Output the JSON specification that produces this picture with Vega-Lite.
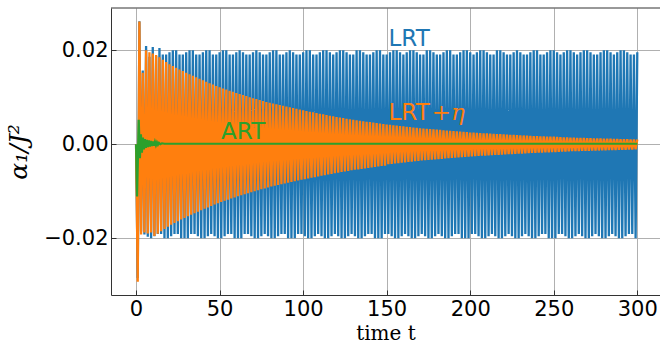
{
"$schema":"https://vega.github.io/schema/vega-lite/v6.json",
"width":549,"height":287,
"autosize":"none",
"padding":{"left":111,"top":8,"right":0,"bottom":52},
"background":"white",
"datasets":{
"sig":[
{"t":0,"b":0,"o":0},{"t":1,"b":-0.0285,"o":-0.0293},{"t":2,"b":0.0262,"o":0.0261},{"t":3,"b":-0.0186,"o":-0.0192},{"t":4,"b":0.0157,"o":0.0152},{"t":5,"b":-0.0192,"o":-0.0188},{"t":6,"b":0.0209,"o":0.0200},{"t":7,"b":-0.0197,"o":-0.0190},{"t":8,"b":0.0186,"o":0.0196},{"t":9,"b":-0.0200,"o":-0.0188},
{"t":10,"b":0.0207,"o":0.0193},{"t":11,"b":-0.0196,"o":-0.01955},{"t":12,"b":0.0188,"o":0.0190},{"t":13,"b":-0.0191,"o":-0.01905},{"t":14,"b":0.0205,"o":0.0185},{"t":15,"b":-0.0191,"o":-0.01855},{"t":16,"b":0.0191,"o":0.0180},{"t":17,"b":-0.0200,"o":-0.01805},{"t":18,"b":0.0191,"o":0.0175},{"t":19,"b":-0.0200,"o":-0.01755},
{"t":20,"b":0.0196,"o":0.0170},{"t":21,"b":-0.0196,"o":-0.01712},{"t":22,"b":0.0200,"o":0.01664},{"t":23,"b":-0.0191,"o":-0.01676},{"t":24,"b":0.0200,"o":0.01628},{"t":25,"b":-0.0191,"o":-0.0164},{"t":26,"b":0.0191,"o":0.01592},{"t":27,"b":-0.0200,"o":-0.01604},{"t":28,"b":0.0191,"o":0.01556},{"t":29,"b":-0.0200,"o":-0.01568},
{"t":30,"b":0.0196,"o":0.0152},{"t":31,"b":-0.0200,"o":-0.01534},{"t":32,"b":0.0200,"o":0.01488},{"t":33,"b":-0.0191,"o":-0.01502},{"t":34,"b":0.0200,"o":0.01456},{"t":35,"b":-0.0191,"o":-0.0147},{"t":36,"b":0.0191,"o":0.01424},{"t":37,"b":-0.0196,"o":-0.01438},{"t":38,"b":0.0191,"o":0.01392},{"t":39,"b":-0.0200,"o":-0.01406},
{"t":40,"b":0.0196,"o":0.0136},{"t":41,"b":-0.0200,"o":-0.01375},{"t":42,"b":0.0200,"o":0.0133},{"t":43,"b":-0.0196,"o":-0.01345},{"t":44,"b":0.0200,"o":0.0130},{"t":45,"b":-0.0191,"o":-0.01315},{"t":46,"b":0.0191,"o":0.0127},{"t":47,"b":-0.0196,"o":-0.01285},{"t":48,"b":0.0191,"o":0.0124},{"t":49,"b":-0.0200,"o":-0.01255},
{"t":50,"b":0.0196,"o":0.0121},{"t":51,"b":-0.0200,"o":-0.01228},{"t":52,"b":0.0200,"o":0.01186},{"t":53,"b":-0.0196,"o":-0.01204},{"t":54,"b":0.0200,"o":0.01162},{"t":55,"b":-0.0191,"o":-0.0118},{"t":56,"b":0.0191,"o":0.01138},{"t":57,"b":-0.0191,"o":-0.01156},{"t":58,"b":0.0191,"o":0.01114},{"t":59,"b":-0.0200,"o":-0.01132},
{"t":60,"b":0.0196,"o":0.0109},{"t":61,"b":-0.0200,"o":-0.01109},{"t":62,"b":0.0200,"o":0.01068},{"t":63,"b":-0.0200,"o":-0.01087},{"t":64,"b":0.0196,"o":0.01046},{"t":65,"b":-0.0191,"o":-0.01065},{"t":66,"b":0.0191,"o":0.01024},{"t":67,"b":-0.0191,"o":-0.01043},{"t":68,"b":0.0191,"o":0.01002},{"t":69,"b":-0.0196,"o":-0.01021},
{"t":70,"b":0.0196,"o":0.0098},{"t":71,"b":-0.0200,"o":-0.0100},{"t":72,"b":0.0200,"o":0.0096},{"t":73,"b":-0.0200,"o":-0.0098},{"t":74,"b":0.0196,"o":0.0094},{"t":75,"b":-0.0196,"o":-0.0096},{"t":76,"b":0.0191,"o":0.0092},{"t":77,"b":-0.0191,"o":-0.0094},{"t":78,"b":0.0191,"o":0.0090},{"t":79,"b":-0.0196,"o":-0.0092},
{"t":80,"b":0.0196,"o":0.0088},{"t":81,"b":-0.0200,"o":-0.00902},{"t":82,"b":0.0200,"o":0.00864},{"t":83,"b":-0.0200,"o":-0.00886},{"t":84,"b":0.0200,"o":0.00848},{"t":85,"b":-0.0196,"o":-0.0087},{"t":86,"b":0.0191,"o":0.00832},{"t":87,"b":-0.0191,"o":-0.00854},{"t":88,"b":0.0191,"o":0.00816},{"t":89,"b":-0.0191,"o":-0.00838},
{"t":90,"b":0.0196,"o":0.0080},{"t":91,"b":-0.0200,"o":-0.00822},{"t":92,"b":0.0200,"o":0.00784},{"t":93,"b":-0.0200,"o":-0.00806},{"t":94,"b":0.0196,"o":0.00768},{"t":95,"b":-0.0200,"o":-0.0079},{"t":96,"b":0.0191,"o":0.00752},{"t":97,"b":-0.0191,"o":-0.00774},{"t":98,"b":0.0191,"o":0.00736},{"t":99,"b":-0.0191,"o":-0.00758},
{"t":100,"b":0.0196,"o":0.0072},{"t":101,"b":-0.0196,"o":-0.00743},{"t":102,"b":0.0200,"o":0.00706},{"t":103,"b":-0.0200,"o":-0.00729},{"t":104,"b":0.0200,"o":0.00692},{"t":105,"b":-0.0200,"o":-0.00715},{"t":106,"b":0.0191,"o":0.00678},{"t":107,"b":-0.0196,"o":-0.00701},{"t":108,"b":0.0191,"o":0.00664},{"t":109,"b":-0.0191,"o":-0.00687},
{"t":110,"b":0.0196,"o":0.0065},{"t":111,"b":-0.0196,"o":-0.00673},{"t":112,"b":0.0200,"o":0.00636},{"t":113,"b":-0.0200,"o":-0.00659},{"t":114,"b":0.0200,"o":0.00622},{"t":115,"b":-0.0200,"o":-0.00645},{"t":116,"b":0.0196,"o":0.00608},{"t":117,"b":-0.0196,"o":-0.00631},{"t":118,"b":0.0191,"o":0.00594},{"t":119,"b":-0.0191,"o":-0.00617},
{"t":120,"b":0.0196,"o":0.0058},{"t":121,"b":-0.0196,"o":-0.00604},{"t":122,"b":0.0200,"o":0.00568},{"t":123,"b":-0.0200,"o":-0.00592},{"t":124,"b":0.0200,"o":0.00556},{"t":125,"b":-0.0200,"o":-0.0058},{"t":126,"b":0.0196,"o":0.00544},{"t":127,"b":-0.0196,"o":-0.00568},{"t":128,"b":0.0191,"o":0.00532},{"t":129,"b":-0.0191,"o":-0.00556},
{"t":130,"b":0.0191,"o":0.0052},{"t":131,"b":-0.0196,"o":-0.00545},{"t":132,"b":0.0200,"o":0.0051},{"t":133,"b":-0.0200,"o":-0.00535},{"t":134,"b":0.0200,"o":0.0050},{"t":135,"b":-0.0200,"o":-0.00525},{"t":136,"b":0.0196,"o":0.0049},{"t":137,"b":-0.0196,"o":-0.00515},{"t":138,"b":0.0191,"o":0.0048},{"t":139,"b":-0.0191,"o":-0.00505},
{"t":140,"b":0.0191,"o":0.0047},{"t":141,"b":-0.0191,"o":-0.00495},{"t":142,"b":0.0196,"o":0.0046},{"t":143,"b":-0.0200,"o":-0.00485},{"t":144,"b":0.0200,"o":0.0045},{"t":145,"b":-0.0200,"o":-0.00475},{"t":146,"b":0.0200,"o":0.0044},{"t":147,"b":-0.0200,"o":-0.00465},{"t":148,"b":0.0191,"o":0.0043},{"t":149,"b":-0.0191,"o":-0.00455},
{"t":150,"b":0.0191,"o":0.0042},{"t":151,"b":-0.0191,"o":-0.00426},{"t":152,"b":0.0196,"o":0.00412},{"t":153,"b":-0.0196,"o":-0.00418},{"t":154,"b":0.0200,"o":0.00404},{"t":155,"b":-0.0200,"o":-0.0041},{"t":156,"b":0.0200,"o":0.00396},{"t":157,"b":-0.0200,"o":-0.00402},{"t":158,"b":0.0196,"o":0.00388},{"t":159,"b":-0.0196,"o":-0.00394},
{"t":160,"b":0.0191,"o":0.0038},{"t":161,"b":-0.0191,"o":-0.00386},{"t":162,"b":0.0196,"o":0.00372},{"t":163,"b":-0.0196,"o":-0.00378},{"t":164,"b":0.0200,"o":0.00364},{"t":165,"b":-0.0200,"o":-0.0037},{"t":166,"b":0.0200,"o":0.00356},{"t":167,"b":-0.0200,"o":-0.00362},{"t":168,"b":0.0196,"o":0.00348},{"t":169,"b":-0.0196,"o":-0.00354},
{"t":170,"b":0.0191,"o":0.0034},{"t":171,"b":-0.0191,"o":-0.00347},{"t":172,"b":0.0191,"o":0.00334},{"t":173,"b":-0.0196,"o":-0.00341},{"t":174,"b":0.0200,"o":0.00328},{"t":175,"b":-0.0200,"o":-0.00335},{"t":176,"b":0.0200,"o":0.00322},{"t":177,"b":-0.0200,"o":-0.00329},{"t":178,"b":0.0196,"o":0.00316},{"t":179,"b":-0.0196,"o":-0.00323},
{"t":180,"b":0.0191,"o":0.0031},{"t":181,"b":-0.0191,"o":-0.00317},{"t":182,"b":0.0191,"o":0.00304},{"t":183,"b":-0.0196,"o":-0.00311},{"t":184,"b":0.0196,"o":0.00298},{"t":185,"b":-0.0200,"o":-0.00305},{"t":186,"b":0.0200,"o":0.00292},{"t":187,"b":-0.0200,"o":-0.00299},{"t":188,"b":0.0200,"o":0.00286},{"t":189,"b":-0.0196,"o":-0.00293},
{"t":190,"b":0.0191,"o":0.0028},{"t":191,"b":-0.0191,"o":-0.00287},{"t":192,"b":0.0191,"o":0.00274},{"t":193,"b":-0.0191,"o":-0.00281},{"t":194,"b":0.0196,"o":0.00268},{"t":195,"b":-0.0200,"o":-0.00275},{"t":196,"b":0.0200,"o":0.00262},{"t":197,"b":-0.0200,"o":-0.00269},{"t":198,"b":0.0200,"o":0.00256},{"t":199,"b":-0.0200,"o":-0.00263},
{"t":200,"b":0.0196,"o":0.0025},{"t":201,"b":-0.0191,"o":-0.00258},{"t":202,"b":0.0191,"o":0.00246},{"t":203,"b":-0.0191,"o":-0.00254},{"t":204,"b":0.0196,"o":0.00242},{"t":205,"b":-0.0196,"o":-0.0025},{"t":206,"b":0.0200,"o":0.00238},{"t":207,"b":-0.0200,"o":-0.00246},{"t":208,"b":0.0200,"o":0.00234},{"t":209,"b":-0.0200,"o":-0.00242},
{"t":210,"b":0.0196,"o":0.0023},{"t":211,"b":-0.0196,"o":-0.00238},{"t":212,"b":0.0191,"o":0.00226},{"t":213,"b":-0.0191,"o":-0.00234},{"t":214,"b":0.0191,"o":0.00222},{"t":215,"b":-0.0196,"o":-0.0023},{"t":216,"b":0.0200,"o":0.00218},{"t":217,"b":-0.0200,"o":-0.00226},{"t":218,"b":0.0200,"o":0.00214},{"t":219,"b":-0.0200,"o":-0.00222},
{"t":220,"b":0.0196,"o":0.0021},{"t":221,"b":-0.0196,"o":-0.00218},{"t":222,"b":0.0191,"o":0.00206},{"t":223,"b":-0.0191,"o":-0.00214},{"t":224,"b":0.0191,"o":0.00202},{"t":225,"b":-0.0196,"o":-0.0021},{"t":226,"b":0.0196,"o":0.00198},{"t":227,"b":-0.0200,"o":-0.00206},{"t":228,"b":0.0200,"o":0.00194},{"t":229,"b":-0.0200,"o":-0.00202},
{"t":230,"b":0.0196,"o":0.0019},{"t":231,"b":-0.0196,"o":-0.00198},{"t":232,"b":0.0191,"o":0.00186},{"t":233,"b":-0.0191,"o":-0.00194},{"t":234,"b":0.0191,"o":0.00182},{"t":235,"b":-0.0196,"o":-0.0019},{"t":236,"b":0.0196,"o":0.00178},{"t":237,"b":-0.0200,"o":-0.00186},{"t":238,"b":0.0200,"o":0.00174},{"t":239,"b":-0.0200,"o":-0.00182},
{"t":240,"b":0.0200,"o":0.0017},{"t":241,"b":-0.0196,"o":-0.00179},{"t":242,"b":0.0191,"o":0.00168},{"t":243,"b":-0.0191,"o":-0.00177},{"t":244,"b":0.0191,"o":0.00166},{"t":245,"b":-0.0191,"o":-0.00175},{"t":246,"b":0.0196,"o":0.00164},{"t":247,"b":-0.0200,"o":-0.00173},{"t":248,"b":0.0200,"o":0.00162},{"t":249,"b":-0.0200,"o":-0.00171},
{"t":250,"b":0.0200,"o":0.0016},{"t":251,"b":-0.0200,"o":-0.00168},{"t":252,"b":0.0196,"o":0.00156},{"t":253,"b":-0.0191,"o":-0.00164},{"t":254,"b":0.0191,"o":0.00152},{"t":255,"b":-0.0191,"o":-0.0016},{"t":256,"b":0.0196,"o":0.00148},{"t":257,"b":-0.0196,"o":-0.00156},{"t":258,"b":0.0200,"o":0.00144},{"t":259,"b":-0.0200,"o":-0.00152},
{"t":260,"b":0.0200,"o":0.0014},{"t":261,"b":-0.0200,"o":-0.00149},{"t":262,"b":0.0196,"o":0.00138},{"t":263,"b":-0.0196,"o":-0.00147},{"t":264,"b":0.0191,"o":0.00136},{"t":265,"b":-0.0191,"o":-0.00145},{"t":266,"b":0.0196,"o":0.00134},{"t":267,"b":-0.0196,"o":-0.00143},{"t":268,"b":0.0200,"o":0.00132},{"t":269,"b":-0.0200,"o":-0.00141},
{"t":270,"b":0.0200,"o":0.0013},{"t":271,"b":-0.0200,"o":-0.00139},{"t":272,"b":0.0196,"o":0.00128},{"t":273,"b":-0.0196,"o":-0.00137},{"t":274,"b":0.0191,"o":0.00126},{"t":275,"b":-0.0191,"o":-0.00135},{"t":276,"b":0.0191,"o":0.00124},{"t":277,"b":-0.0196,"o":-0.00133},{"t":278,"b":0.0196,"o":0.00122},{"t":279,"b":-0.0200,"o":-0.00131},
{"t":280,"b":0.0200,"o":0.0012},{"t":281,"b":-0.0200,"o":-0.00129},{"t":282,"b":0.0200,"o":0.00118},{"t":283,"b":-0.0196,"o":-0.00127},{"t":284,"b":0.0196,"o":0.00116},{"t":285,"b":-0.0191,"o":-0.00125},{"t":286,"b":0.0191,"o":0.00114},{"t":287,"b":-0.0196,"o":-0.00123},{"t":288,"b":0.0196,"o":0.00112},{"t":289,"b":-0.0200,"o":-0.00121},
{"t":290,"b":0.0200,"o":0.0011},{"t":291,"b":-0.0200,"o":-0.00119},{"t":292,"b":0.0200,"o":0.00108},{"t":293,"b":-0.0196,"o":-0.00117},{"t":294,"b":0.0196,"o":0.00106},{"t":295,"b":-0.0191,"o":-0.00115},{"t":296,"b":0.0191,"o":0.00104},{"t":297,"b":-0.0191,"o":-0.00113},{"t":298,"b":0.0191,"o":0.00102},{"t":299,"b":-0.0200,"o":-0.00111},
{"t":300,"b":0.0196,"o":0.0010}
],
"art":[
{"t":0,"g":0},{"t":0.6,"g":-0.0111},{"t":1.6,"g":0.0052},{"t":2.3,"g":-0.0030},{"t":2.9,"g":0.0021},{"t":3.5,"g":-0.0018},{"t":4.1,"g":0.0014},{"t":4.7,"g":-0.0011},{"t":5.3,"g":0.0011},{"t":5.9,"g":-0.0008},{"t":6.5,"g":0.0009},{"t":7.1,"g":-0.0006},{"t":7.7,"g":0.0008},{"t":8.3,"g":-0.0005},{"t":8.9,"g":0.0007},{"t":9.5,"g":-0.0004},{"t":10.1,"g":0.0006},{"t":10.7,"g":-0.0003},{"t":11.3,"g":0.0005},{"t":11.9,"g":-0.0002},{"t":12.5,"g":0.0004},{"t":13.1,"g":-0.0001},{"t":13.7,"g":0.0003},{"t":14.5,"g":0.0000},{"t":15.5,"g":0.0002},{"t":17,"g":0.0001},{"t":20,"g":0.0001},{"t":300,"g":0.0001}
]
},
"config":{
"font":"DejaVu Sans",
"view":{"stroke":null},
"axis":{"domainColor":"#333333","domainWidth":1,"tickColor":"#333333","tickWidth":1,"tickSize":-5,"gridColor":"#b0b0b0","gridWidth":1,"labelFont":"DejaVu Sans","labelFontSize":21,"labelColor":"#000000","labelPadding":8,"titleColor":"#000000","titleFontWeight":"normal","titleFont":"DejaVu Serif"},
"axisX":{"titleFontSize":20,"titlePadding":4,"labelFlush":false},
"axisY":{"titleFontSize":25,"titleFontStyle":"italic","titlePadding":12,"labelFlush":false}
},
"layer":[
{"data":{"name":"sig"},"mark":{"type":"line","color":"#1f77b4","strokeWidth":2.3},
 "encoding":{
  "x":{"field":"t","type":"quantitative","scale":{"domain":[-15,313.6],"nice":false,"zero":false},"axis":{"values":[0,50,100,150,200,250,300],"title":"time t"}},
  "y":{"field":"b","type":"quantitative","scale":{"domain":[-0.0321,0.029],"nice":false,"zero":false},"axis":{"values":[-0.02,0,0.02],"format":".2f","title":"α₁/J²"}}}},
{"data":{"name":"sig"},"mark":{"type":"line","color":"#ff7f0e","strokeWidth":2.3},
 "encoding":{
  "x":{"field":"t","type":"quantitative","scale":{"domain":[-15,313.6],"nice":false,"zero":false},"axis":{"values":[0,50,100,150,200,250,300],"title":"time t"}},
  "y":{"field":"o","type":"quantitative","scale":{"domain":[-0.0321,0.029],"nice":false,"zero":false},"axis":{"values":[-0.02,0,0.02],"format":".2f","title":"α₁/J²"}}}},
{"data":{"name":"art"},"mark":{"type":"line","color":"#2ca02c","strokeWidth":2.2},
 "encoding":{
  "x":{"field":"t","type":"quantitative","scale":{"domain":[-15,313.6],"nice":false,"zero":false},"axis":{"values":[0,50,100,150,200,250,300],"title":"time t"}},
  "y":{"field":"g","type":"quantitative","scale":{"domain":[-0.0321,0.029],"nice":false,"zero":false},"axis":{"values":[-0.02,0,0.02],"format":".2f","title":"α₁/J²"}}}},
{"data":{"values":[{"top":0.029}]},"mark":{"type":"rule","color":"#333333","strokeWidth":1},
 "encoding":{"y":{"field":"top","type":"quantitative","scale":{"domain":[-0.0321,0.029],"nice":false,"zero":false},"axis":{"values":[-0.02,0,0.02],"format":".2f","title":"α₁/J²"}}}},
{"data":{"values":[{"t":151.1,"y":0.0209,"label":"LRT"}]},"mark":{"type":"text","color":"#1f77b4","font":"DejaVu Sans","fontSize":23,"align":"left","baseline":"alphabetic"},
 "encoding":{"x":{"field":"t","type":"quantitative","axis":{"values":[0,50,100,150,200,250,300],"title":"time t"}},"y":{"field":"y","type":"quantitative","axis":{"values":[-0.02,0,0.02],"format":".2f","title":"α₁/J²"}},"text":{"field":"label"}}},
{"data":{"values":[{"t":151.1,"y":0.0052,"label":"LRT"}]},"mark":{"type":"text","color":"#ff7f0e","font":"DejaVu Sans","fontSize":23,"align":"left","baseline":"alphabetic"},
 "encoding":{"x":{"field":"t","type":"quantitative","axis":{"values":[0,50,100,150,200,250,300],"title":"time t"}},"y":{"field":"y","type":"quantitative","axis":{"values":[-0.02,0,0.02],"format":".2f","title":"α₁/J²"}},"text":{"field":"label"}}},
{"data":{"values":[{"t":177.0,"y":0.0052,"label":"+η"}]},"mark":{"type":"text","color":"#ff7f0e","font":"DejaVu Serif","fontStyle":"italic","fontSize":23,"align":"left","baseline":"alphabetic"},
 "encoding":{"x":{"field":"t","type":"quantitative","axis":{"values":[0,50,100,150,200,250,300],"title":"time t"}},"y":{"field":"y","type":"quantitative","axis":{"values":[-0.02,0,0.02],"format":".2f","title":"α₁/J²"}},"text":{"field":"label"}}},
{"data":{"values":[{"t":50.9,"y":0.00106,"label":"ART"}]},"mark":{"type":"text","color":"#2ca02c","font":"DejaVu Sans","fontSize":23,"align":"left","baseline":"alphabetic"},
 "encoding":{"x":{"field":"t","type":"quantitative","axis":{"values":[0,50,100,150,200,250,300],"title":"time t"}},"y":{"field":"y","type":"quantitative","axis":{"values":[-0.02,0,0.02],"format":".2f","title":"α₁/J²"}},"text":{"field":"label"}}}
]
}
